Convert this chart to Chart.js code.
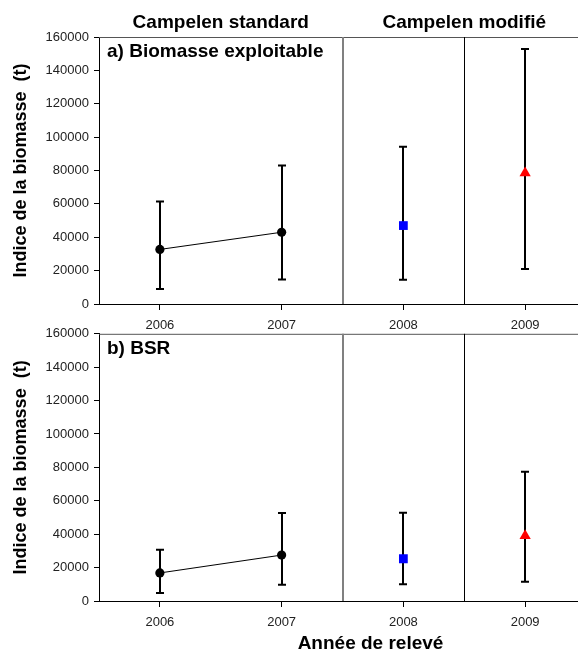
<!DOCTYPE html>
<html>
<head>
<meta charset="utf-8">
<script src="https://cdn.jsdelivr.net/npm/chart.js@4.4.1/dist/chart.umd.min.js"></script>
<style>
  body { margin: 0; background: #fff; overflow: hidden; }
  #wrap { position: relative; width: 578px; height: 650px; overflow: hidden; background: #fff; }
  canvas { position: absolute; left: 0; }
</style>
</head>
<body>
<div id="wrap">
  <canvas id="panelA" width="600" height="335" style="top:0px"></canvas>
  <canvas id="panelB" width="600" height="329" style="top:321px"></canvas>
</div>
<script>
// Data
const years = [2006, 2007, 2008, 2009];
const yTickValues = [0, 20000, 40000, 60000, 80000, 100000, 120000, 140000, 160000];

// a) Biomasse exploitable
const biomasseMean = [32700, 43000, 47000, 78500];
const biomasseLow = [9000, 14700, 14500, 21000];
const biomasseHigh = [61400, 83000, 94300, 152800];

// b) BSR
const bsrMean = [16800, 27500, 25300, 39100];
const bsrLow = [4800, 9800, 10000, 11500];
const bsrHigh = [30700, 52700, 52900, 77400];

const groupLabels = ["Campelen standard", "Campelen modifié"];
const xTitle = "Année de relevé";
const FONT = "'Liberation Sans', Arial, sans-serif";

// Error bars, dividers and texts drawn with the chart's own scales
const panelDecor = {
    id: "panelDecor",
    beforeDatasetsDraw(chart, args, opts) {
        const ctx = chart.ctx;
        const x = chart.scales.x;
        const y = chart.scales.y;
        const area = chart.chartArea;
        ctx.save();

        // top border of the panel
        ctx.strokeStyle = "#555";
        ctx.lineWidth = 1;
        ctx.beginPath();
        ctx.moveTo(area.left, area.top + 0.5);
        ctx.lineTo(area.right, area.top + 0.5);
        ctx.stroke();

        // dividers between the survey gear groups
        const d1 = Math.round(x.getPixelForValue(2007.5));
        ctx.strokeStyle = "#808080";
        ctx.lineWidth = 2;
        ctx.beginPath();
        ctx.moveTo(d1, area.top);
        ctx.lineTo(d1, area.bottom);
        ctx.stroke();
        const d2 = Math.round(x.getPixelForValue(2008.5)) + 0.5;
        ctx.strokeStyle = "#000";
        ctx.lineWidth = 1;
        ctx.beginPath();
        ctx.moveTo(d2, area.top);
        ctx.lineTo(d2, area.bottom);
        ctx.stroke();

        // error bars
        ctx.strokeStyle = "#000";
        ctx.lineWidth = 2;
        years.forEach(function (yr, i) {
            const px = Math.round(x.getPixelForValue(yr));
            const top = y.getPixelForValue(opts.high[i]);
            const bot = y.getPixelForValue(opts.low[i]);
            ctx.beginPath();
            ctx.moveTo(px, top);
            ctx.lineTo(px, bot);
            ctx.moveTo(px - 4, top);
            ctx.lineTo(px + 4, top);
            ctx.moveTo(px - 4, bot);
            ctx.lineTo(px + 4, bot);
            ctx.stroke();
        });
        ctx.restore();
    },
    afterDraw(chart, args, opts) {
        const ctx = chart.ctx;
        const x = chart.scales.x;
        const area = chart.chartArea;
        ctx.save();
        ctx.fillStyle = "#000";
        ctx.font = "bold 19px " + FONT;
        ctx.textBaseline = "middle";
        ctx.textAlign = "left";
        ctx.fillText(opts.label, area.left + 8, area.top + 15);
        ctx.textAlign = "center";
        if (opts.headers) {
            ctx.fillText(groupLabels[0], (area.left + x.getPixelForValue(2007.5)) / 2, 23);
            ctx.fillText(groupLabels[1], x.getPixelForValue(2008.5), 23);
        } else {
            // x axis title, sits a little right of the plot centre
            ctx.fillText(xTitle, x.getPixelForValue(2007.73), area.bottom + 43);
        }
        ctx.restore();
    }
};

function makePanel(canvasId, means, low, high, label, isBottom) {
    const ctx = document.getElementById(canvasId).getContext("2d");
    return new Chart(ctx, {
        type: "scatter",
        data: {
            datasets: [
                {
                    data: [{ x: years[0], y: means[0] }, { x: years[1], y: means[1] }],
                    showLine: true,
                    borderColor: "#000",
                    borderWidth: 1,
                    pointRadius: 4.6,
                    pointBackgroundColor: "#000",
                    pointBorderColor: "#000",
                    pointBorderWidth: 0
                },
                {
                    data: [{ x: years[2], y: means[2] }],
                    pointStyle: "rect",
                    pointRadius: 6.2,
                    pointBackgroundColor: "#0000ff",
                    pointBorderColor: "#0000ff",
                    pointBorderWidth: 0
                },
                {
                    data: [{ x: years[3], y: means[3] }],
                    pointStyle: "triangle",
                    pointRadius: 6.5,
                    pointBackgroundColor: "#ff0000",
                    pointBorderColor: "#ff0000",
                    pointBorderWidth: 0
                }
            ]
        },
        options: {
            responsive: false,
            animation: false,
            layout: { padding: { top: isBottom ? 0 : 37, right: 14, left: 0, bottom: 0 } },
            plugins: {
                legend: { display: false },
                tooltip: { enabled: false },
                panelDecor: { low: low, high: high, label: label, headers: !isBottom }
            },
            scales: {
                x: {
                    type: "linear",
                    min: 2005.5,
                    max: 2009.5,
                    afterBuildTicks: function (scale) {
                        scale.ticks = years.map(function (v) { return { value: v }; });
                    },
                    afterFit: function (scale) { scale.height = isBottom ? 49 : 31; },
                    ticks: {
                        color: "#222",
                        font: { family: FONT, size: 13 },
                        padding: 8,
                        maxRotation: 0,
                        callback: function (v) { return String(v); }
                    },
                    grid: { drawOnChartArea: false, color: "#000", tickLength: 6 },
                    border: { color: "#000", width: 1 }
                },
                y: {
                    min: 0,
                    max: 160000,
                    afterBuildTicks: function (scale) {
                        scale.ticks = yTickValues.map(function (v) { return { value: v }; });
                    },
                    afterFit: function (scale) { scale.width = 99; },
                    ticks: {
                        color: "#222",
                        font: { family: FONT, size: 13 },
                        padding: 5,
                        callback: function (v) { return String(v); }
                    },
                    grid: { drawOnChartArea: false, color: "#000", tickLength: 5 },
                    border: { color: "#000", width: 1 },
                    title: {
                        display: true,
                        text: "Indice de la biomasse  (t)",
                        color: "#000",
                        font: { family: FONT, size: 18, weight: "bold" },
                        padding: { top: 10, bottom: 0 }
                    }
                }
            }
        },
        plugins: [panelDecor]
    });
}

document.addEventListener("DOMContentLoaded", function () {
    makePanel("panelA", biomasseMean, biomasseLow, biomasseHigh, "a) Biomasse exploitable", false);
    makePanel("panelB", bsrMean, bsrLow, bsrHigh, "b) BSR", true);
});
</script>
</body>
</html>
